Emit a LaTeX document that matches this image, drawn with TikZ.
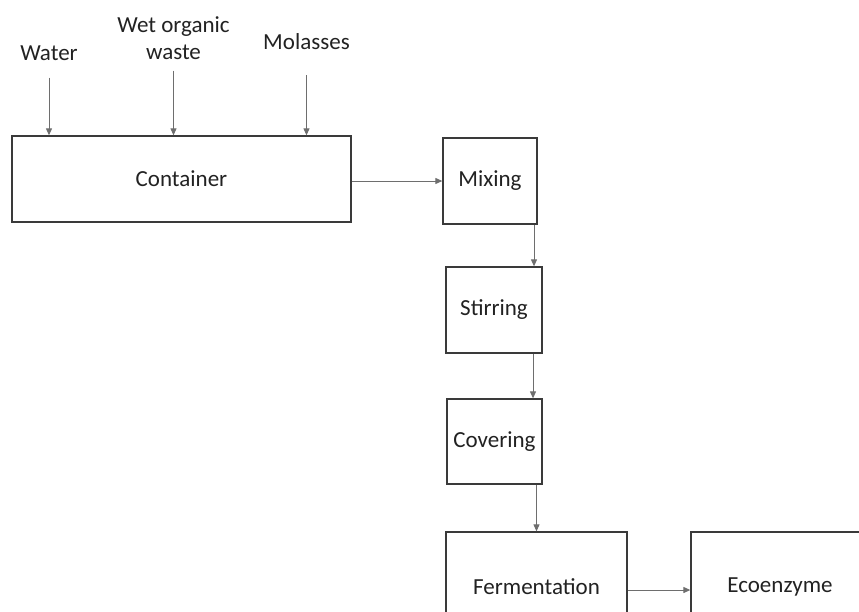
\documentclass[tikz,border=0pt]{standalone}
\usepackage{fontspec}
\setmainfont{Carlito}
\usetikzlibrary{arrows.meta}
\definecolor{boxline}{HTML}{3A3A3A}
\definecolor{arrline}{HTML}{6E6E6E}
\definecolor{txt}{HTML}{222222}
\begin{document}
\begin{tikzpicture}[x=1pt,y=-1pt,
  every node/.style={font=\fontsize{23}{27}\selectfont, text=txt},
  box/.style={draw=boxline, line width=1.3pt, fill=white, inner sep=0pt},
  lbl/.style={inner sep=0pt, align=center},
  arr/.style={draw=arrline, line width=1pt, -{Triangle[length=7pt,width=6pt]}}]
\useasboundingbox (0,0) rectangle (859,611);
\clip (0,0) rectangle (859,611);
% labels
\node[lbl] (water) at (49,53) {Water};
\node[lbl] (wet) at (173.5,38) {Wet organic\\waste};
\node[lbl] (mol) at (306.5,42) {Molasses};
% boxes
\node[box, minimum width=339pt, minimum height=86pt] (cont) at (181.5,179) {Container};
\node[box, minimum width=94pt, minimum height=86pt] (mix) at (490,181) {Mixing};
\node[box, minimum width=96pt, minimum height=86pt] (stir) at (494,310) {Stirring};
\node[box, minimum width=95pt, minimum height=85pt] (cov) at (494.5,441.5) {Covering};
\node[box, minimum width=181pt, minimum height=110pt] (ferm) at (536.5,587) {Fermentation};
\node[box, minimum width=178pt, minimum height=110pt] (eco) at (780,587) {Ecoenzyme};
% input arrows
\draw[arr] ([yshift=-17pt]water.south) -- (water.south |- cont.north);
\draw[arr] ([yshift=-11pt]wet.south) -- (wet.south |- cont.north);
\draw[arr] ([yshift=-25pt]mol.south) -- (mol.south |- cont.north);
% flow arrows
\draw[arr] (cont.east |- mix.west) -- (mix.west);
\draw[arr] ([xshift=44pt]mix.south) -- ([xshift=44pt]mix.south |- stir.north);
\draw[arr] ([xshift=39pt]stir.south) -- ([xshift=39pt]stir.south |- cov.north);
\draw[arr] (ferm.north |- cov.south) -- (ferm.north);
\draw[arr] ([yshift=-3pt]ferm.east) -- ([yshift=-3pt]eco.west);
\end{tikzpicture}
\end{document}
